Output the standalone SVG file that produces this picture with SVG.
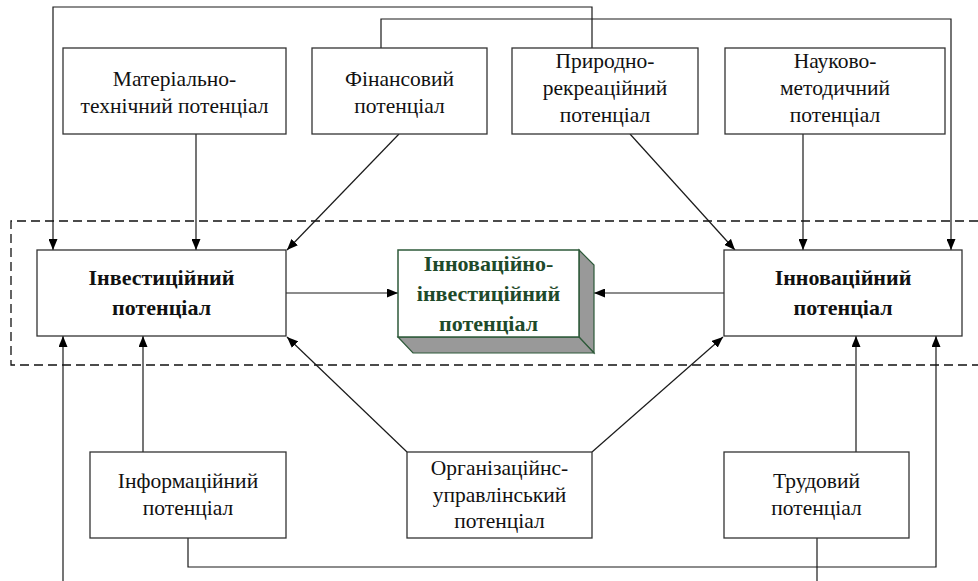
<svg xmlns="http://www.w3.org/2000/svg" width="978" height="581" viewBox="0 0 978 581">
<style>
.box{fill:#fff;stroke:#333;stroke-width:1.3}
.t{font-family:'Liberation Serif','Times New Roman',serif;font-size:21.5px;fill:#111;text-anchor:middle}
.b{font-weight:bold;font-size:22px}
.c{fill:none;stroke:#1a1a1a;stroke-width:1.2}
.g{fill:#1E4A2A}
</style>
<defs>
<marker id="ar" markerUnits="userSpaceOnUse" markerWidth="11" markerHeight="9" refX="11" refY="4.5" orient="auto"><path d="M0,0 L11,4.5 L0,9 z" fill="#000"/></marker>
</defs>
<rect width="978" height="581" fill="#fff"/>
<path d="M978,221 H11 V365 H978" fill="none" stroke="#111" stroke-width="1.3" stroke-dasharray="9,5"/>
<g id="connectors">
<path class="c" d="M592,48 V7 H53 V250" marker-end="url(#ar)"/>
<path class="c" d="M381,48 V19 H951 V250" marker-end="url(#ar)"/>
<path class="c" d="M196,134 V250" marker-end="url(#ar)"/>
<path class="c" d="M399,134 L287,250" marker-end="url(#ar)"/>
<path class="c" d="M630,134 L735,250" marker-end="url(#ar)"/>
<path class="c" d="M803,134 V250" marker-end="url(#ar)"/>
<path class="c" d="M286,293 H398" marker-end="url(#ar)"/>
<path class="c" d="M724,293 H594" marker-end="url(#ar)"/>
<path class="c" d="M143,452 V336" marker-end="url(#ar)"/>
<path class="c" d="M188,538 V567 H936 V336" marker-end="url(#ar)"/>
<path class="c" d="M856,452 V336" marker-end="url(#ar)"/>
<path class="c" d="M817,538 V581"/>
<path class="c" d="M63,581 V336" marker-end="url(#ar)"/>
<path class="c" d="M407,452 L287,337" marker-end="url(#ar)"/>
<path class="c" d="M592,452 L723,337" marker-end="url(#ar)"/>
</g>
<g id="material">
<rect class="box" x="63" y="48" width="223" height="86"/>
<text class="t" x="174.5" y="86">Матеріально-</text>
<text class="t" x="174.5" y="113">технічний потенціал</text>
</g>
<g id="finansovyi">
<rect class="box" x="312" y="48" width="175" height="86"/>
<text class="t" x="399.5" y="86">Фінансовий</text>
<text class="t" x="399.5" y="113">потенціал</text>
</g>
<g id="pryrodno">
<rect class="box" x="512" y="48" width="186" height="86"/>
<text class="t" x="605" y="68">Природно-</text>
<text class="t" x="605" y="95">рекреаційний</text>
<text class="t" x="605" y="122">потенціал</text>
</g>
<g id="naukovo">
<rect class="box" x="725" y="48" width="220" height="86"/>
<text class="t" x="835" y="68">Науково-</text>
<text class="t" x="835" y="95">методичний</text>
<text class="t" x="835" y="122">потенціал</text>
</g>
<g id="investytsiinyi">
<rect class="box" x="37" y="250" width="249" height="86"/>
<text class="t b" x="161.5" y="285">Інвестиційний</text>
<text class="t b" x="161.5" y="315">потенціал</text>
</g>
<g id="innovatsiinyi">
<rect class="box" x="724" y="250" width="238" height="86"/>
<text class="t b" x="843" y="285">Інноваційний</text>
<text class="t b" x="843" y="315">потенціал</text>
</g>
<g id="central">
<path d="M579,250 L594,265 L594,353 L579,337 z" fill="#999" stroke="#2E5A3A" stroke-width="1.2"/>
<path d="M398,337 L579,337 L594,353 L413,353 z" fill="#999" stroke="#2E5A3A" stroke-width="1.2"/>
<rect x="398" y="250" width="181" height="87" fill="#fff" stroke="#2E5A3A" stroke-width="1.5"/>
<text class="t b g" x="488.5" y="271">Інноваційно-</text>
<text class="t b g" x="488.5" y="301">інвестиційний</text>
<text class="t b g" x="488.5" y="331">потенціал</text>
</g>
<g id="informatsiinyi">
<rect class="box" x="90" y="452" width="196" height="86"/>
<text class="t" x="188" y="488">Інформаційний</text>
<text class="t" x="188" y="515">потенціал</text>
</g>
<g id="orhanizatsiinyi">
<rect class="box" x="407" y="452" width="185" height="86"/>
<text class="t" x="499.5" y="475">Організаційнс-</text>
<text class="t" x="499.5" y="502">управлінський</text>
<text class="t" x="499.5" y="528">потенціал</text>
</g>
<g id="trudovyi">
<rect class="box" x="724" y="452" width="185" height="86"/>
<text class="t" x="816.5" y="488">Трудовий</text>
<text class="t" x="816.5" y="515">потенціал</text>
</g>
</svg>
